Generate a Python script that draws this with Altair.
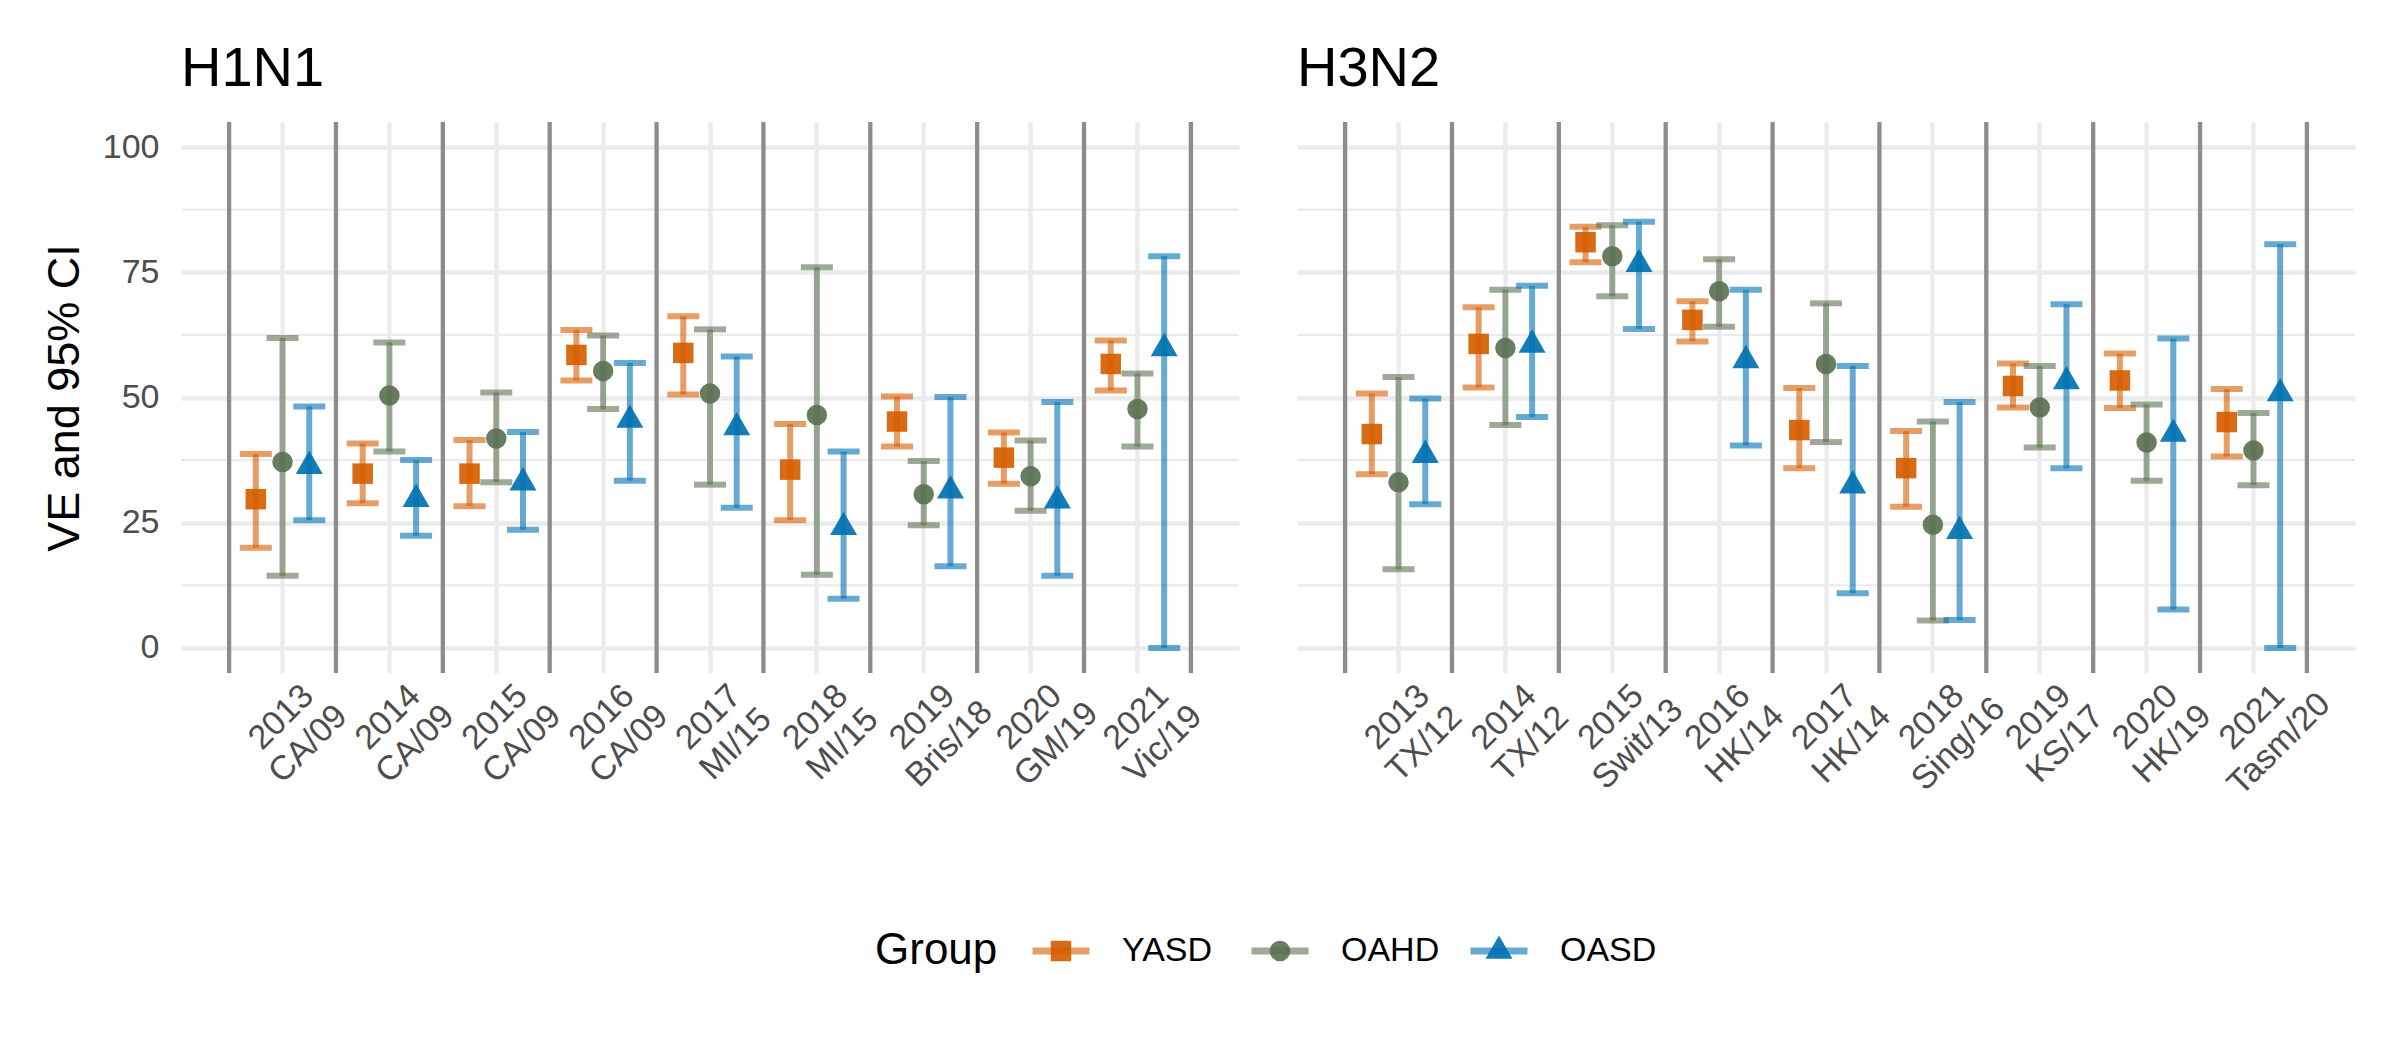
import altair as alt
import pandas as pd

# ---------------- data ----------------
years = [2013, 2014, 2015, 2016, 2017, 2018, 2019, 2020, 2021]
h1n1_strains = ["CA/09", "CA/09", "CA/09", "CA/09", "MI/15", "MI/15", "Bris/18", "GM/19", "Vic/19"]
h3n2_strains = ["TX/12", "TX/12", "Swit/13", "HK/14", "HK/14", "Sing/16", "KS/17", "HK/19", "Tasm/20"]
groups = ["YASD", "OAHD", "OASD"]
group_colors = ["#D55E00", "#5B7152", "#0072B2"]
legend_title = "Group"
y_title = "VE and 95% CI"
y_ticks = [0, 25, 50, 75, 100]
y_minor = [12.5, 37.5, 62.5, 87.5]

h1n1_yasd_ve = [29.7, 34.8, 34.8, 58.5, 58.9, 35.6, 45.2, 38.0, 56.7]
h1n1_yasd_lo = [20.0, 28.9, 28.3, 53.4, 50.6, 25.5, 40.2, 32.8, 51.4]
h1n1_yasd_hi = [38.7, 40.8, 41.5, 63.5, 66.2, 44.7, 50.2, 43.0, 61.4]
h1n1_oahd_ve = [37.1, 50.4, 41.8, 55.3, 50.8, 46.5, 30.7, 34.3, 47.7]
h1n1_oahd_lo = [14.4, 39.2, 33.1, 47.7, 32.6, 14.6, 24.5, 27.4, 40.2]
h1n1_oahd_hi = [61.9, 61.0, 51.0, 62.4, 63.6, 76.0, 37.3, 41.4, 54.8]
h1n1_oasd_ve = [36.3, 29.7, 33.0, 45.5, 44.0, 24.1, 31.4, 29.4, 59.8]
h1n1_oasd_lo = [25.5, 22.4, 23.6, 33.4, 28.0, 9.8, 16.3, 14.4, 0.0]
h1n1_oasd_hi = [48.2, 37.5, 43.1, 56.9, 58.2, 39.2, 50.1, 49.1, 78.2]

h3n2_yasd_ve = [42.7, 60.7, 81.0, 65.5, 43.5, 35.9, 52.3, 53.4, 45.1]
h3n2_yasd_lo = [34.7, 52.0, 77.0, 61.2, 35.9, 28.2, 48.0, 47.9, 38.2]
h3n2_yasd_hi = [50.8, 68.0, 84.1, 69.2, 51.9, 43.3, 56.8, 58.8, 51.7]
h3n2_oahd_ve = [33.1, 59.9, 78.2, 71.2, 56.7, 24.6, 48.0, 41.0, 39.4]
h3n2_oahd_lo = [15.7, 44.5, 70.2, 64.1, 41.1, 5.5, 40.0, 33.4, 32.5]
h3n2_oahd_hi = [54.1, 71.5, 84.4, 77.6, 68.8, 45.2, 56.3, 48.6, 46.9]
h3n2_oasd_ve = [38.5, 60.5, 76.6, 57.4, 32.4, 23.3, 53.2, 42.7, 50.8]
h3n2_oasd_lo = [28.7, 46.1, 63.7, 40.4, 10.9, 5.6, 35.9, 7.7, 0.0]
h3n2_oasd_hi = [49.8, 72.3, 85.1, 71.5, 56.3, 49.1, 68.6, 61.8, 80.6]

# ---------------- styling ----------------
FONT = "Liberation Sans"
PANEL_W = 1058
PANEL_H = 551
GRID = "#EBEBEB"
SEP = "#8C8C8C"
LABEL_GREY = "#4D4D4D"
TRIANGLE = "M0,-1.52L1.316,0.76L-1.316,0.76Z"
shapes = ["square", "circle", TRIANGLE]


def build(strains, series):
    cats = [f"{y}|{s}" for y, s in zip(years, strains)]
    rows = []
    for g, (ve, lo, hi) in zip(groups, series):
        for c, v, l, h in zip(cats, ve, lo, hi):
            rows.append({"cat": c, "group": g, "ve": v, "lo": l, "hi": h})
    return pd.DataFrame(rows), cats


h1_df, h1_cats = build(h1n1_strains, [
    (h1n1_yasd_ve, h1n1_yasd_lo, h1n1_yasd_hi),
    (h1n1_oahd_ve, h1n1_oahd_lo, h1n1_oahd_hi),
    (h1n1_oasd_ve, h1n1_oasd_lo, h1n1_oasd_hi),
])
h3_df, h3_cats = build(h3n2_strains, [
    (h3n2_yasd_ve, h3n2_yasd_lo, h3n2_yasd_hi),
    (h3n2_oahd_ve, h3n2_oahd_lo, h3n2_oahd_hi),
    (h3n2_oasd_ve, h3n2_oasd_lo, h3n2_oasd_hi),
])

color_scale = alt.Scale(domain=groups, range=group_colors)
shape_scale = alt.Scale(domain=groups, range=shapes)
y_scale = alt.Scale(domain=[-5, 105], nice=False, zero=False)


def panel(df, cats, title, first):
    x_scale = alt.Scale(domain=cats, paddingInner=0, paddingOuter=0.45)
    x_axis = alt.Axis(
        title=None, labelExpr="split(datum.label, '|')", labelAngle=315,
        labelAlign="center", labelBaseline="top", labelFontSize=34,
        labelColor=LABEL_GREY, labelLineHeight=38, labelOffset=-13,
        labelPadding=32, ticks=False, tickSize=0, domain=False, grid=True,
        gridColor=GRID, gridWidth=4.4, bandPosition=0.5,
        labelOverlap=False, labelBound=False, labelFont=FONT,
    )
    if first:
        y_axis = alt.Axis(
            title=y_title, values=y_ticks, labelFontSize=34, labelColor=LABEL_GREY,
            labelPadding=22, ticks=False, domain=False, grid=True, gridColor=GRID,
            gridWidth=4.4, titleFontSize=45, titleFontWeight="normal",
            titleColor="black", titlePadding=15, labelFont=FONT, titleFont=FONT,
        )
    else:
        y_axis = alt.Axis(
            title=None, values=y_ticks, labels=False, ticks=False, domain=False,
            grid=True, gridColor=GRID, gridWidth=4.4,
        )

    def X(**kw):
        return alt.X("cat:N", scale=x_scale, axis=x_axis, **kw)

    def Y(field):
        return alt.Y(field, scale=y_scale, axis=y_axis)

    xo = alt.XOffset("group:N", scale=alt.Scale(domain=groups, paddingInner=0, paddingOuter=0.5))
    col = alt.Color("group:N", scale=color_scale, legend=None)

    minor = alt.Chart(pd.DataFrame({"v": y_minor})).mark_rule(
        color=GRID, strokeWidth=2.2).encode(y=Y("v:Q"))

    cat_df = pd.DataFrame({"cat": cats})
    sep_left = alt.Chart(cat_df).mark_rule(color=SEP, strokeWidth=4.3).encode(
        x=X(bandPosition=0))
    sep_right = alt.Chart(cat_df).transform_filter(
        alt.datum.cat == cats[-1]).mark_rule(color=SEP, strokeWidth=4.3).encode(
        x=X(bandPosition=1))

    base = alt.Chart(df)
    bars = base.mark_rule(strokeWidth=6, opacity=0.6).encode(
        x=X(), xOffset=xo, y=Y("lo:Q"), y2="hi:Q", color=col)
    cap_lo = base.mark_tick(orient="horizontal", size=32, thickness=6, opacity=0.6).encode(
        x=X(), xOffset=xo, y=Y("lo:Q"), color=col)
    cap_hi = base.mark_tick(orient="horizontal", size=32, thickness=6, opacity=0.6).encode(
        x=X(), xOffset=xo, y=Y("hi:Q"), color=col)
    pts = base.mark_point(filled=True, size=420, opacity=0.92, strokeWidth=0).encode(
        x=X(), xOffset=xo, y=Y("ve:Q"), color=col,
        shape=alt.Shape("group:N", scale=shape_scale, legend=None))

    return alt.layer(minor, sep_left, sep_right, bars, cap_lo, cap_hi, pts).properties(
        width=PANEL_W, height=PANEL_H,
        title=alt.TitleParams(title, anchor="start", frame="group", fontSize=56,
                              fontWeight="normal", color="black", font=FONT, offset=22),
    )


left = panel(h1_df, h1_cats, "H1N1", True)
right = panel(h3_df, h3_cats, "H3N2", False)

# ---------------- legend ----------------
leg_x = alt.X("key:N", scale=alt.Scale(type="point", domain=[legend_title] + groups,
                                       range=[661, 1318], padding=0), axis=None)
gdf = pd.DataFrame({"key": groups})
leg_col = alt.Color("key:N", scale=color_scale, legend=None)
leg_bar = alt.Chart(gdf).mark_tick(orient="horizontal", size=57, thickness=7, opacity=0.6).encode(
    x=leg_x, color=leg_col)
leg_pts = alt.Chart(gdf).mark_point(filled=True, size=420, opacity=0.92, strokeWidth=0).encode(
    x=leg_x, color=leg_col, shape=alt.Shape("key:N", scale=shape_scale, legend=None))
leg_lab = alt.Chart(gdf).mark_text(align="left", baseline="middle", dx=61, fontSize=34,
                                   font=FONT, color="black").encode(x=leg_x, text="key:N")
leg_ttl = alt.Chart(pd.DataFrame({"key": [legend_title]})).mark_text(
    align="left", baseline="middle", dx=33, fontSize=44, font=FONT, color="black").encode(
    x=leg_x, text="key:N")
legend_chart = alt.layer(leg_bar, leg_pts, leg_lab, leg_ttl).properties(width=PANEL_W, height=40)

chart = alt.concat(
    left, right, legend_chart, columns=2,
    spacing={"row": 258, "column": 58}, bounds="flush",
).resolve_scale(
    x="independent", xOffset="independent", y="independent"
).properties(
    padding={"left": 42, "top": 40, "right": 5, "bottom": 5},
    background="white",
).configure(font=FONT).configure_view(strokeWidth=0, stroke="transparent")

chart.save("out.html", embed_options={"renderer": "svg", "actions": False})
